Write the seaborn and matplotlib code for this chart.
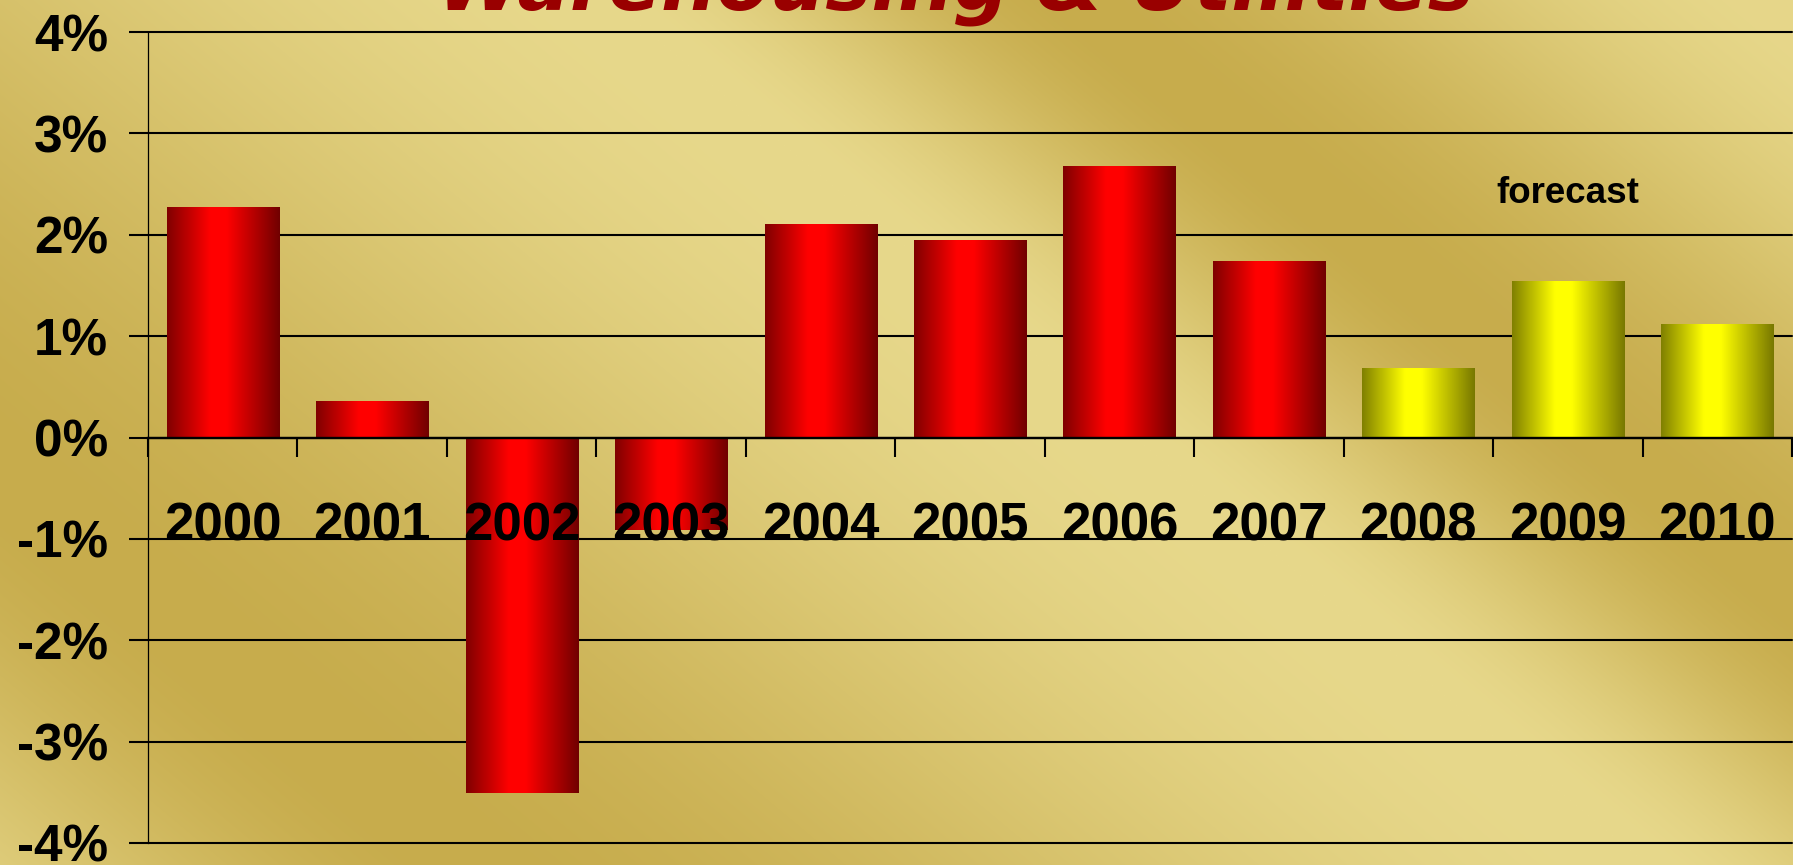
import numpy as np
import matplotlib
matplotlib.use("Agg")
import matplotlib.pyplot as plt
import seaborn as sns
import pandas as pd

# ---------------- data ----------------
years = ["2000", "2001", "2002", "2003", "2004", "2005", "2006", "2007", "2008", "2009", "2010"]
growth = [2.27, 0.36, -3.51, -0.91, 2.11, 1.95, 2.68, 1.74, 0.69, 1.54, 1.12]
is_forecast = [False, False, False, False, False, False, False, False, True, True, True]
y_ticks = [-4, -3, -2, -1, 0, 1, 2, 3, 4]
y_tick_labels = ["-4%", "-3%", "-2%", "-1%", "0%", "1%", "2%", "3%", "4%"]
title_text = "Warehousing & Utilities"
note_text = "forecast"
note_pos = (9, 2.31)

# ---------------- style ----------------
sns.set_style("white")
plt.rcParams['font.family'] = ['Liberation Sans', 'DejaVu Sans']

W, H, DPI = 1793, 865, 100
fig = plt.figure(figsize=(W / DPI, H / DPI), dpi=DPI)

# gold textured background (diagonal bands)
yy, xx = np.mgrid[0:H, 0:W]
s = xx - 1.2 * (yy - 150)
t = np.interp(s, [-1000, -400, 790, 1250, 1906, 2300], [0.85, 0, 1, 0, 0.9, 0.9])
t = t * t * (3 - 2 * t)
light = np.array([231, 216, 139]) / 255
dark = np.array([199, 172, 76]) / 255
bg_img = dark + (light - dark) * t[..., None]
bg = fig.add_axes([0, 0, 1, 1], zorder=-10)
bg.imshow(bg_img, aspect='auto', extent=[0, 1, 0, 1], origin='upper')
bg.set_axis_off()

# main axes
ax = fig.add_axes([148 / W, 22 / H, 1644 / W, 811 / H])
ax.set_facecolor('none')

df = pd.DataFrame({'year': years, 'growth': growth})
sns.barplot(data=df, x='year', y='growth', width=0.75, color='red', ax=ax,
            zorder=2, errorbar=None)

# horizontal gradient fill for bars
tt = np.linspace(0, 1, 256)
p1, p2 = 0.38, 0.53
f = np.where(tt < p1, tt / p1, np.where(tt < p2, 1.0, 1 - (tt - p2) / (1 - p2)))
f = np.clip(f, 0, 1)
def grad(dark_l, dark_r, bright_c):
    dark_l = np.array(dark_l); dark_r = np.array(dark_r); bright_c = np.array(bright_c)
    d = np.where(tt[:, None] < p1, dark_l, dark_r)
    return (d + (bright_c - d) * f[:, None])[None, :, :]

red_grad = grad([0.50, 0, 0], [0.44, 0, 0], [1, 0, 0])
yel_grad = grad([0.50, 0.50, 0], [0.47, 0.47, 0], [1, 1, 0])

for i, patch in enumerate(list(ax.patches)):
    x0, w = patch.get_x(), patch.get_width()
    y0, h = patch.get_y(), patch.get_height()
    patch.set_facecolor('none')
    patch.set_edgecolor('none')
    g = yel_grad if is_forecast[i] else red_grad
    im = ax.imshow(g, extent=[x0, x0 + w, min(y0, y0 + h), max(y0, y0 + h)],
                   aspect='auto', zorder=2, interpolation='bilinear')
    im.set_clip_path(patch)

# grid lines (behind bars)
for yv in y_ticks:
    ax.axhline(yv, color='black', lw=1.5, zorder=0.8, clip_on=False)

ax.set_xlim(-0.5, 10.5)
ax.set_ylim(-4, 4)
ax.set_xlabel('')
ax.set_ylabel('')

for side in ['top', 'right']:
    ax.spines[side].set_visible(False)
ax.spines['bottom'].set_position(('data', 0))
ax.spines['bottom'].set_linewidth(1.7)
ax.spines['bottom'].set_color('black')
ax.spines['left'].set_linewidth(0.9)
ax.spines['left'].set_color('black')
ax.set_axisbelow(False)

ax.set_yticks(y_ticks)
ax.set_yticklabels(y_tick_labels)
ax.tick_params(axis='y', left=True, length=13.7, width=1.5, direction='out',
               pad=15, labelsize=37, colors='black')
ax.set_xticks(range(len(years)))
ax.set_xticklabels(years)
ax.tick_params(axis='x', which='major', bottom=True, length=0, pad=46, labelsize=38,
               labelcolor='black')
ax.set_xticks(np.arange(-0.5, len(years), 1), minor=True)
ax.tick_params(axis='x', which='minor', bottom=True, length=13.7, width=1.5,
               direction='out', color='black')
for lbl in ax.get_xticklabels() + ax.get_yticklabels():
    lbl.set_fontweight('bold')

ax.text(note_pos[0], note_pos[1], note_text, ha='center', va='baseline',
        fontsize=26.5, fontweight='bold', color='black')

fig.text(955 / W, 1 - 9.5 / H, title_text, ha='center', va='baseline',
         fontsize=56, fontweight='bold', style='italic', color='#990000',
         family=['DejaVu Sans'])

fig.savefig('out.png', dpi=DPI)
